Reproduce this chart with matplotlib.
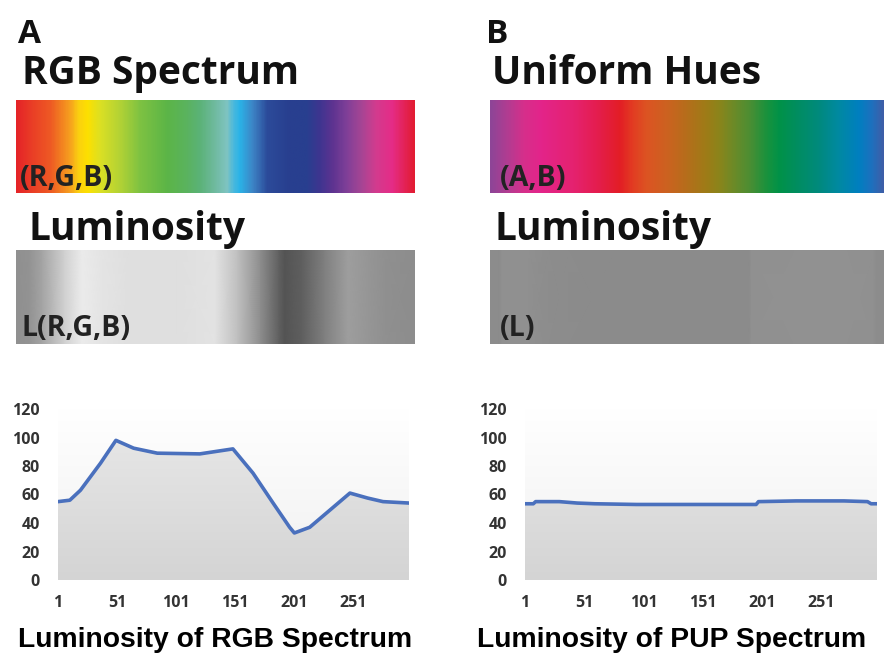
import numpy as np
import matplotlib
matplotlib.use("Agg")
import matplotlib.pyplot as plt
from matplotlib import font_manager as fm
from matplotlib.colors import LinearSegmentedColormap

# luminosity curves (index along the spectrum, L value)
rgb_x = [1, 11, 20, 37, 50, 65, 85, 121, 149, 166, 183, 197, 201, 214, 231, 248, 263, 276, 298]
rgb_L = [55, 56, 63, 82, 98, 92.5, 89, 88.5, 92, 75, 54, 37, 33, 37, 49, 61, 57.5, 55, 54]

pup_x = [1, 8, 10, 30, 45, 60, 95, 150, 196, 198, 230, 270, 290, 293, 298]
pup_L = [53.5, 53.5, 55, 55, 54, 53.5, 53, 53, 53, 55, 55.5, 55.5, 55, 53.5, 53.5]

xticks = [1, 51, 101, 151, 201, 251]
yticks = [0, 20, 40, 60, 80, 100, 120]

# colour stops of the two hue bars (position along bar, colour)
rgb_pos = [0, 0.04, 0.085, 0.135, 0.155, 0.178, 0.21, 0.26, 0.31, 0.378, 0.428, 0.46, 0.494,
           0.529, 0.545, 0.561, 0.594, 0.63, 0.685, 0.73, 0.762, 0.795, 0.83, 0.87, 0.905,
           0.945, 1.0]
rgb_col = ["#e52428", "#ea3f26", "#ee5a24", "#f6a21e", "#fbd010", "#fde000", "#dbe024",
           "#b2d235", "#7ec242", "#5cb547", "#5ab35f", "#5bb277", "#6db99a", "#7fc4c1",
           "#4cb9dc", "#2ab3e8", "#3d85c6", "#2c4b9a", "#283f8f", "#283f8f", "#3d3590",
           "#5d3390", "#7f3f98", "#a84594", "#d33b8e", "#e52c87", "#e21c33"]

pup_pos = [0, 0.043, 0.084, 0.127, 0.211, 0.272, 0.330, 0.363, 0.398, 0.449, 0.500, 0.551,
           0.584, 0.617, 0.660, 0.703, 0.736, 0.787, 0.838, 0.888, 0.939, 0.972, 1.0]
pup_col = ["#8e4597", "#b23c91", "#d62f8b", "#e3248a", "#e5226f", "#e41d4e", "#e31e25",
           "#e23d22", "#dc5423", "#cc6220", "#b56e1b", "#9d7c17", "#8a851b", "#6e8a27",
           "#4c8e33", "#1a923d", "#009248", "#008d63", "#008a7e", "#0089a2", "#007fc0",
           "#1e70be", "#3d5fa8"]

W, H = 884, 656
HEAD = ["Open Sans", "DejaVu Sans"]
try:
    fm.findfont(fm.FontProperties(family="Liberation Sans Narrow", weight="bold"),
                fallback_to_default=False)
    TITLE_FONT, TITLE_SIZE = "Liberation Sans Narrow", 24.5
except ValueError:
    TITLE_FONT, TITLE_SIZE = "Liberation Sans", 20.3

lum_cmap = LinearSegmentedColormap.from_list(
    "lum", [(0, "#4d4d4d"), (25 / 70, "#909090"), (58 / 70, "#dedede"), (1, "#eeeeee")])
rgb_cmap = LinearSegmentedColormap.from_list("rgb", list(zip(rgb_pos, rgb_col)))
pup_cmap = LinearSegmentedColormap.from_list("pup", list(zip(pup_pos, pup_col)))
bg_cmap = LinearSegmentedColormap.from_list("bg", ["#f0f0f0", "#ffffff"])
fill_cmap = LinearSegmentedColormap.from_list("fill", ["#d4d4d4", "#e6e6e6"])


def box(l, t, r, b):
    return [l / W, 1 - b / H, (r - l) / W, (b - t) / H]


def label(x, y, s, size, family=HEAD, weight="bold", color="#111111"):
    fig.text(x / W, 1 - y / H, s, fontsize=size, family=family, weight=weight,
             color=color, ha="left", va="baseline")


def hue_bar(rect, cmap):
    ax = fig.add_axes(box(*rect))
    ax.imshow(np.linspace(0, 1, 600)[None, :], aspect="auto", cmap=cmap,
              extent=[0, 1, 0, 1], interpolation="bilinear")
    ax.set_xlim(0, 1)
    ax.axis("off")


def lum_bar(rect, xs, L):
    ax = fig.add_axes(box(*rect))
    X = np.array([xs, xs], dtype=float)
    Y = np.array([[0] * len(xs), [1] * len(xs)], dtype=float)
    C = np.array([L, L], dtype=float)
    ax.pcolormesh(X, Y, C, shading="gouraud", cmap=lum_cmap, vmin=30, vmax=100)
    ax.set_xlim(xs[0], xs[-1])
    ax.set_ylim(0, 1)
    ax.axis("off")


def lum_chart(rect, xs, L):
    ax = fig.add_axes(box(*rect))
    ax.imshow(np.linspace(0, 1, 256)[:, None], aspect="auto", cmap=bg_cmap,
              extent=[xs[0], xs[-1], 0, 120], origin="lower", zorder=0)
    poly = ax.fill_between(xs, 0, L, color="none")
    im = ax.imshow(np.linspace(0, 1, 256)[:, None], aspect="auto", cmap=fill_cmap,
                   extent=[xs[0], xs[-1], 0, 100], origin="lower", zorder=1)
    im.set_clip_path(poly.get_paths()[0], transform=ax.transData)
    ax.plot(xs, L, color="#4a70bd", lw=2.6, zorder=3, solid_joinstyle="round")
    ax.set_xlim(xs[0], xs[-1])
    ax.set_ylim(0, 120)
    ax.set_xticks(xticks)
    ax.set_yticks(yticks)
    for s in ax.spines.values():
        s.set_visible(False)
    ax.tick_params(length=0, labelsize=11.5, labelcolor="#333333")
    ax.tick_params(axis="y", pad=13)
    ax.tick_params(axis="x", pad=11)
    for t in ax.get_xticklabels() + ax.get_yticklabels():
        t.set_family(HEAD)
        t.set_weight("bold")
    return ax


fig = plt.figure(figsize=(W / 100, H / 100), dpi=100)

# panel A
label(18, 43, "A", 24)
label(22, 84, "RGB Spectrum", 28)
hue_bar((16, 100, 415, 193), rgb_cmap)
label(20, 186, "(R,G,B)", 20.5, color="#222222")
label(28, 240, "Luminosity", 28)
lum_bar((16, 250, 415, 344), rgb_x, rgb_L)
label(22, 336, "L(R,G,B)", 20.5, color="#222222")
lum_chart((58, 409, 409, 580), rgb_x, rgb_L)
label(18, 647, "Luminosity of RGB Spectrum", TITLE_SIZE, family=[TITLE_FONT, "DejaVu Sans"],
      color="#000000")

# panel B
label(486, 43, "B", 24)
label(492, 84, "Uniform Hues", 28)
hue_bar((490, 100, 884, 193), pup_cmap)
label(500, 186, "(A,B)", 20.5, color="#222222")
label(495, 240, "Luminosity", 28)
lum_bar((490, 250, 884, 344), pup_x, pup_L)
label(500, 336, "(L)", 20.5, color="#222222")
lum_chart((525, 409, 877, 580), pup_x, pup_L)
label(477, 647, "Luminosity of PUP Spectrum", TITLE_SIZE, family=[TITLE_FONT, "DejaVu Sans"],
      color="#000000")

fig.savefig("out.png", dpi=100)
